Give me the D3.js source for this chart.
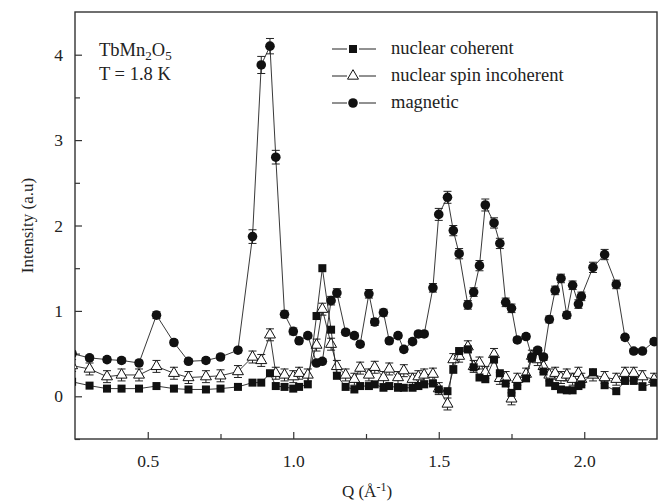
<!DOCTYPE html>
<html>
<head>
<meta charset="utf-8">
<script src="https://cdn.jsdelivr.net/npm/d3@7"></script>
<style>
  body { margin: 0; background: #fff; }
  svg text { font-family: "Liberation Serif", "Times New Roman", Times, "DejaVu Serif", serif; fill: #222; }
</style>
</head>
<body>
<div id="chart"></div>
<script>
// momentum transfer Q (1/Angstrom), shared by the three series
var qValues = [0.24, 0.30, 0.36, 0.41, 0.47, 0.53, 0.59, 0.64, 0.70, 0.75, 0.81,
  0.86, 0.89, 0.92, 0.94, 0.97, 1.00, 1.02, 1.05, 1.08, 1.10,
  1.13, 1.15, 1.18, 1.21, 1.23, 1.26, 1.28, 1.31, 1.33, 1.36,
  1.38, 1.41, 1.43, 1.45, 1.48, 1.50, 1.53, 1.55, 1.57, 1.60,
  1.62, 1.64, 1.66, 1.69, 1.71, 1.73, 1.75, 1.77, 1.80, 1.82,
  1.84, 1.86, 1.88, 1.90, 1.92, 1.94, 1.96, 1.98, 1.99, 2.03,
  2.07, 2.11, 2.14, 2.17, 2.20, 2.24];

var nuclearCoherent = [0.17, 0.125, 0.09, 0.09, 0.09, 0.12, 0.09, 0.08, 0.08, 0.09, 0.11,
  0.16, 0.16, 0.27, 0.12, 0.11, 0.09, 0.11, 0.14, 0.94, 1.50,
  0.78, 0.24, 0.11, 0.08, 0.12, 0.12, 0.14, 0.10, 0.12, 0.10,
  0.10, 0.10, 0.12, 0.14, 0.15, 0.08, 0.06, 0.31, 0.53, 0.55,
  0.34, 0.22, 0.20, 0.43, 0.27, 0.15, 0.04, 0.12, 0.21, 0.45,
  0.53, 0.29, 0.16, 0.12, 0.08, 0.07, 0.07, 0.12, 0.14, 0.28,
  0.13, 0.06, 0.18, 0.18, 0.11, 0.16];

var nuclearSpin = [0.36, 0.32, 0.23, 0.25, 0.25, 0.35, 0.27, 0.22, 0.23, 0.24, 0.29,
  0.46, 0.42, 0.72, 0.27, 0.25, 0.23, 0.27, 0.25, 0.60, 1.02,
  0.61, 0.35, 0.25, 0.20, 0.33, 0.25, 0.34, 0.22, 0.32, 0.22,
  0.30, 0.20, 0.23, 0.25, 0.26, 0.09, -0.09, 0.43, 0.47, 0.58,
  0.35, 0.39, 0.28, 0.49, 0.21, 0.22, -0.03, 0.20, 0.26, 0.47,
  0.43, 0.35, 0.25, 0.27, 0.22, 0.25, 0.20, 0.27, 0.20, 0.25,
  0.22, 0.20, 0.27, 0.27, 0.23, 0.20];

var magnetic = [0.50, 0.45, 0.43, 0.42, 0.39, 0.95, 0.63, 0.41, 0.42, 0.46, 0.54,
  1.87, 3.88, 4.10, 2.80, 0.96, 0.76, 0.65, 0.71, 0.39, 0.41,
  1.12, 1.21, 0.75, 0.71, 0.61, 1.20, 0.87, 0.98, 0.65, 0.71,
  0.55, 0.64, 0.73, 0.73, 1.27, 2.13, 2.33, 1.94, 1.67, 1.07,
  1.22, 1.53, 2.24, 2.03, 1.79, 1.10, 1.03, 0.66, 0.70, 0.46,
  0.54, 0.46, 0.90, 1.24, 1.38, 0.95, 1.30, 1.08, 1.17, 1.51,
  1.66, 1.31, 0.69, 0.53, 0.53, 0.64];

var magneticErr = [0.03, 0.03, 0.03, 0.03, 0.03, 0.04, 0.03, 0.03, 0.03, 0.03, 0.03,
  0.08, 0.10, 0.09, 0.08, 0.04, 0.04, 0.03, 0.03, 0.03, 0.03,
  0.05, 0.05, 0.03, 0.03, 0.03, 0.05, 0.04, 0.04, 0.03, 0.03,
  0.03, 0.03, 0.03, 0.03, 0.05, 0.07, 0.07, 0.06, 0.06, 0.05,
  0.05, 0.06, 0.07, 0.06, 0.06, 0.05, 0.05, 0.03, 0.03, 0.03,
  0.03, 0.03, 0.04, 0.05, 0.05, 0.04, 0.05, 0.05, 0.05, 0.06,
  0.06, 0.05, 0.03, 0.03, 0.03, 0.03];
var spinErr = 0.07;

var seriesNames = ["nuclear coherent", "nuclear spin incoherent", "magnetic"];
var xTicks = [0.5, 1.0, 1.5, 2.0];
var yTicks = [0, 1, 2, 3, 4];

var serif = "'Liberation Serif', 'Times New Roman', Times, 'DejaVu Serif', serif";

var width = 662, height = 503;
var margin = {top: 12, right: 5, bottom: 64, left: 75};
var w = width - margin.left - margin.right;
var h = height - margin.top - margin.bottom;

var svg = d3.select("#chart").append("svg")
  .attr("width", width)
  .attr("height", height)
  .attr("font-family", serif);

var g = svg.append("g")
  .attr("transform", "translate(" + margin.left + "," + margin.top + ")");

var x = d3.scaleLinear().domain([0.25, 2.25]).range([0, w]);
var y = d3.scaleLinear().domain([-0.5, 4.5]).range([h, 0]);

svg.append("defs").append("clipPath").attr("id", "clip")
  .append("rect").attr("width", w).attr("height", h);

// axes, ticks pointing inwards
var xAxis = g.append("g")
  .attr("transform", "translate(0," + h + ")")
  .call(d3.axisBottom(x).tickValues(xTicks).tickFormat(d3.format(".1f"))
    .tickSize(-7).tickPadding(16));
var xMinor = g.append("g")
  .attr("transform", "translate(0," + h + ")")
  .call(d3.axisBottom(x).tickValues([0.75, 1.25, 1.75]).tickFormat("").tickSize(-5));

var yAxis = g.append("g")
  .call(d3.axisLeft(y).tickValues(yTicks).tickFormat(d3.format("d"))
    .tickSize(-7).tickPadding(12));
var yMinor = g.append("g")
  .call(d3.axisLeft(y).tickValues([-0.5, 0.5, 1.5, 2.5, 3.5]).tickFormat("").tickSize(-5));

[xAxis, xMinor, yAxis, yMinor].forEach(function(a) {
  a.attr("font-family", serif).attr("font-size", 17.5);
  a.select(".domain").remove();
  a.selectAll("line").attr("stroke", "#333").attr("stroke-width", 1.2);
  a.selectAll("text").attr("fill", "#222");
});

g.append("rect")
  .attr("width", w).attr("height", h)
  .attr("fill", "none").attr("stroke", "#333").attr("stroke-width", 1.4);

// axis titles
svg.append("text")
  .attr("transform", "translate(33," + (margin.top + h / 2) + ") rotate(-90)")
  .attr("text-anchor", "middle")
  .style("font-size", "17px")
  .text("Intensity (a.u)");

var xt = svg.append("text")
  .attr("x", 367).attr("y", 497)
  .attr("text-anchor", "middle")
  .style("font-size", "17px");
xt.append("tspan").text("Q (Å");
xt.append("tspan").attr("dy", -6).style("font-size", "12px").text("-1");
xt.append("tspan").attr("dy", 6).text(")");

// sample annotation
var t1 = g.append("text").attr("x", 24).attr("y", 44).style("font-size", "18.5px");
t1.append("tspan").text("TbMn");
t1.append("tspan").attr("dy", 4).style("font-size", "13px").text("2");
t1.append("tspan").attr("dy", -4).text("O");
t1.append("tspan").attr("dy", 4).style("font-size", "13px").text("5");
g.append("text").attr("x", 24).attr("y", 68).style("font-size", "18.5px").text("T = 1.8 K");

function pts(vals) {
  return qValues.map(function(q, i) { return {q: q, v: vals[i], i: i}; });
}

var line = d3.line().x(function(d) { return x(d.q); }).y(function(d) { return y(d.v); });
var plot = g.append("g").attr("clip-path", "url(#clip)");

function drawMarker(sel, type) {
  if (type === "square") {
    sel.append("rect").attr("x", -4).attr("y", -4).attr("width", 8).attr("height", 8)
      .attr("fill", "#111");
  } else if (type === "triangle") {
    sel.append("path").attr("d", d3.symbol(d3.symbolTriangle, 52)())
      .attr("fill", "#fff").attr("stroke", "#111").attr("stroke-width", 1);
  } else {
    sel.append("circle").attr("r", 4.8).attr("fill", "#111");
  }
}

function drawSeries(vals, type, errFn) {
  var data = pts(vals);
  plot.append("path").datum(data)
    .attr("d", line).attr("fill", "none")
    .attr("stroke", "#222").attr("stroke-width", 0.9);
  if (errFn) {
    var eb = plot.append("g").selectAll("g").data(data).enter().append("g")
      .attr("stroke", "#222").attr("stroke-width", 1);
    eb.append("line")
      .attr("x1", function(d) { return x(d.q); }).attr("x2", function(d) { return x(d.q); })
      .attr("y1", function(d) { return y(d.v - errFn(d)); })
      .attr("y2", function(d) { return y(d.v + errFn(d)); });
    [-1, 1].forEach(function(s) {
      eb.append("line")
        .attr("x1", function(d) { return x(d.q) - 4; }).attr("x2", function(d) { return x(d.q) + 4; })
        .attr("y1", function(d) { return y(d.v + s * errFn(d)); })
        .attr("y2", function(d) { return y(d.v + s * errFn(d)); });
    });
  }
  var m = plot.append("g").selectAll("g").data(data).enter().append("g")
    .attr("transform", function(d) { return "translate(" + x(d.q) + "," + y(d.v) + ")"; });
  drawMarker(m, type);
}

drawSeries(nuclearSpin, "triangle", function() { return spinErr; });
drawSeries(nuclearCoherent, "square", null);
drawSeries(magnetic, "circle", function(d) { return magneticErr[d.i]; });

// legend
var types = ["square", "triangle", "circle"];
var leg = svg.append("g").attr("transform", "translate(332,49)");
seriesNames.forEach(function(name, i) {
  var r = leg.append("g").attr("transform", "translate(0," + (i * 27) + ")");
  r.append("line").attr("x1", 0).attr("x2", 15).attr("stroke", "#222").attr("stroke-width", 1);
  r.append("line").attr("x1", 27).attr("x2", 44).attr("stroke", "#222").attr("stroke-width", 1);
  var mk = r.append("g").attr("transform", "translate(21,0)");
  drawMarker(mk, types[i]);
  r.append("text").attr("x", 59).attr("y", 5).style("font-size", "18.5px").text(name);
});
</script>
</body>
</html>
